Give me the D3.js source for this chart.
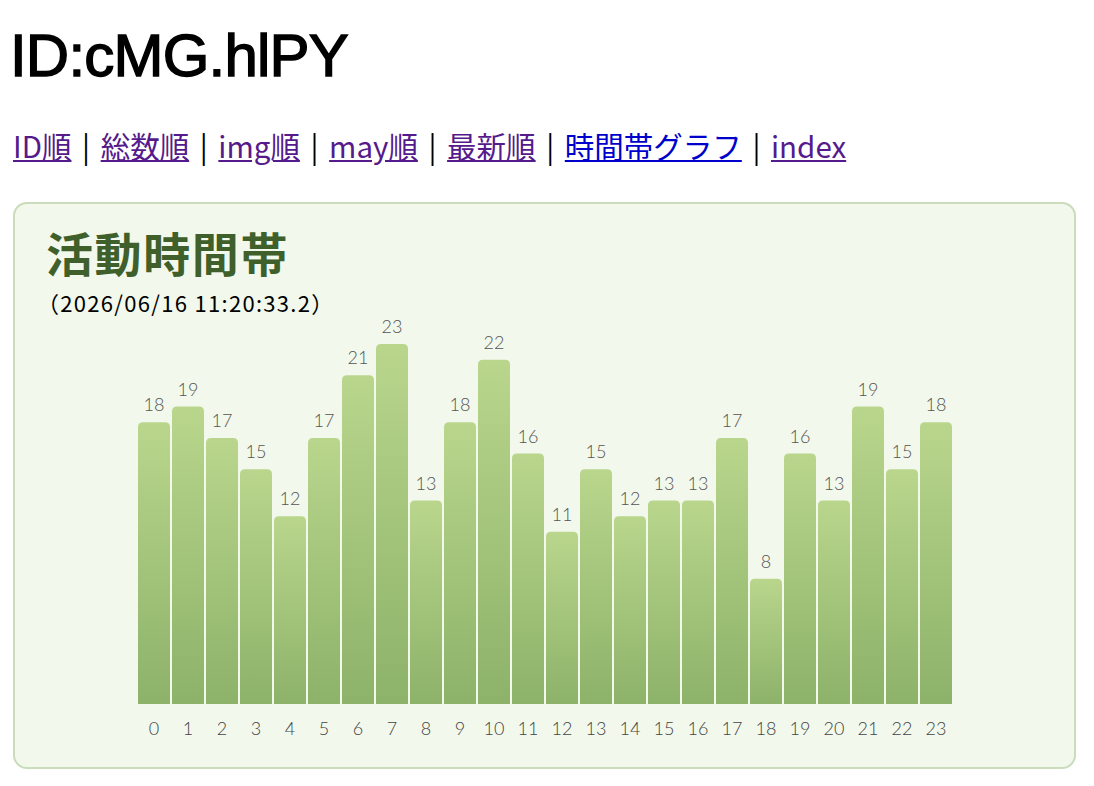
<!DOCTYPE html>
<html>
<head>
<meta charset="utf-8">
<script src="https://cdn.jsdelivr.net/npm/d3@7"></script>
<style>
  body { margin: 0; background: #fff; font-family: "Noto Sans CJK JP", "Liberation Sans", sans-serif; }
  #title { position: absolute; left: 10px; top: 21px; margin: 0; font: 400 60px "Liberation Sans", Arial, sans-serif;
           letter-spacing: -0.8px; color: #000; -webkit-text-stroke: 1.4px #000; }
  #nav { position: absolute; left: 13px; top: 123px; font-size: 29.5px; line-height: 44px; color: #000; white-space: nowrap; }
  #nav a { color: #551a8b; text-decoration: underline; }
  #nav a.cur { color: #0000cc; }
  #nav .sep { padding: 0 4px; }
  #panel { position: absolute; left: 13px; top: 202px; width: 1059px; height: 563px;
           border: 2px solid #cadcbb; border-radius: 14px; background: #f2f8ec; }
  #chart { position: absolute; left: 0; top: 0; }
</style>
</head>
<body>
<h1 id="title">ID:cMG.hlPY</h1>
<div id="nav"></div>
<div id="panel"></div>
<svg id="chart" width="1094" height="786"></svg>
<script>
const hours = d3.range(0, 24);
const counts = [18, 19, 17, 15, 12, 17, 21, 23, 13, 18, 22, 16, 11, 15, 12, 13, 13, 17, 8, 16, 13, 19, 15, 18];
const navLinks = ["ID順", "総数順", "img順", "may順", "最新順", "時間帯グラフ", "index"];
const currentLink = "時間帯グラフ";
const chartTitle = "活動時間帯";
const stamp = "（2026/06/16 11:20:33.2）";

// nav row
const nav = d3.select("#nav");
navLinks.forEach((t, i) => {
  if (i > 0) nav.append("span").attr("class", "sep").text(" | ");
  nav.append("a").attr("href", "#").classed("cur", t === currentLink).text(t);
});

const svg = d3.select("#chart");

svg.append("text")
  .attr("x", 46).attr("y", 272)
  .attr("font-size", 47).attr("font-weight", 700)
  .attr("letter-spacing", 1.6)
  .attr("fill", "#3f5f2b")
  .attr("font-family", "Noto Sans CJK JP")
  .text(chartTitle);

svg.append("text")
  .attr("x", 37).attr("y", 311.5)
  .attr("font-size", 22)
  .attr("letter-spacing", 1.3)
  .attr("fill", "#000")
  .attr("font-family", "Noto Sans CJK JP")
  .text(stamp);

const defs = svg.append("defs");
const grad = defs.append("linearGradient")
  .attr("id", "barGrad").attr("x1", 0).attr("y1", 0).attr("x2", 0).attr("y2", 1);
grad.append("stop").attr("offset", "0%").attr("stop-color", "#b9d68c");
grad.append("stop").attr("offset", "100%").attr("stop-color", "#8db26a");

const x = d3.scaleBand()
  .domain(hours)
  .range([137, 953])
  .paddingInner(2 / 34)
  .paddingOuter(1 / 34);

const y = d3.scaleLinear()
  .domain([0, d3.max(counts)])
  .range([704, 344]);

const r = 5;
function barPath(h, v) {
  const x0 = x(h), w = x.bandwidth(), y0 = y(v), yb = y(0);
  return `M${x0},${yb}V${y0 + r}Q${x0},${y0} ${x0 + r},${y0}H${x0 + w - r}Q${x0 + w},${y0} ${x0 + w},${y0 + r}V${yb}Z`;
}

svg.append("g").selectAll("path")
  .data(hours)
  .enter()
  .append("path")
  .attr("d", (h) => barPath(h, counts[h]))
  .attr("fill", "url(#barGrad)");

svg.append("g").selectAll("text")
  .data(hours)
  .enter()
  .append("text")
  .attr("x", (h) => x(h) + x.bandwidth() / 2)
  .attr("y", (h) => y(counts[h]) - 11)
  .attr("text-anchor", "middle")
  .attr("font-size", 18)
  .attr("font-weight", 300)
  .attr("font-family", "Lato, 'Noto Sans', sans-serif")
  .attr("fill", "#555")
  .text((h) => counts[h]);

const xAxis = svg.append("g")
  .attr("transform", `translate(0,${y(0)})`)
  .call(d3.axisBottom(x).tickSize(0).tickPadding(18));
xAxis.select(".domain").remove();
xAxis.selectAll("text")
  .attr("font-size", 18)
  .attr("font-weight", 300)
  .attr("font-family", "Lato, 'Noto Sans', sans-serif")
  .attr("fill", "#444");
</script>
</body>
</html>
